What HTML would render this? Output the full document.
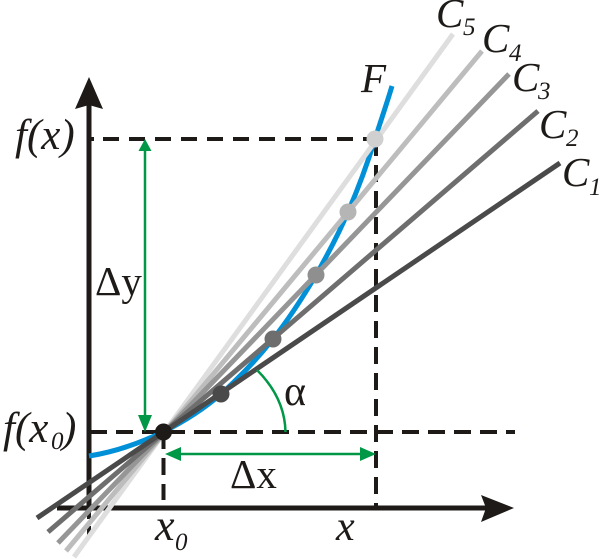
<!DOCTYPE html>
<html>
<head>
<meta charset="utf-8">
<style>
html,body{margin:0;padding:0;background:#fff;width:600px;height:559px;overflow:hidden}
svg{display:block}
text{font-family:"Liberation Serif",serif;fill:#1d1a18}
.i{font-style:italic}
</style>
</head>
<body>
<svg width="600" height="559" viewBox="0 0 600 559" xmlns="http://www.w3.org/2000/svg">
<rect width="600" height="559" fill="#fff"/>
<!-- axes -->
<line x1="89" y1="105" x2="89" y2="510" stroke="#1d1a18" stroke-width="5"/>
<line x1="89" y1="510" x2="89" y2="540" stroke="#1d1a18" stroke-width="4" stroke-dasharray="9 7"/>
<polygon points="89,77 103,109 89,105 75,109" fill="#1d1a18"/>
<line x1="57" y1="508" x2="490" y2="508" stroke="#1d1a18" stroke-width="5"/>
<polygon points="514,508 481,522 486,508 481,495" fill="#1d1a18"/>
<!-- dashes -->
<g stroke="#1d1a18" stroke-width="4" fill="none">
<line x1="91" y1="139" x2="94" y2="139"/>
<line x1="103" y1="139" x2="376" y2="139" stroke-dasharray="16 10"/>
<line x1="90" y1="432" x2="515" y2="432" stroke-dasharray="17 9"/>
<line x1="163.5" y1="432" x2="163.5" y2="500" stroke-dasharray="17 9"/>
<line x1="376" y1="139" x2="376" y2="506" stroke-dasharray="17 9"/>
</g>
<!-- curve -->
<path d="M89,456 C115,452 140,443 163,432 C185,421 205,408 221,394 C240,377 258,358 273,339 C289,319 303,297 316,275 C328,254 339,233 348,212 C358,189 367,165 375,139 C381,120 387,103 392,86" fill="none" stroke="#0090d8" stroke-width="5"/>
<!-- lines -->
<g stroke-width="5" fill="none">
<line x1="74" y1="557" x2="453" y2="34" stroke="#dedede"/>
<line x1="66" y1="551" x2="482" y2="51" stroke="#bdbdbd"/>
<line x1="58" y1="543" x2="509" y2="74" stroke="#969696"/>
<line x1="48" y1="532" x2="538" y2="111" stroke="#6e6e6e"/>
<line x1="37" y1="518" x2="560" y2="163" stroke="#4a4a4a"/>
</g>
<!-- dots -->
<circle cx="163.5" cy="432" r="8.500" fill="#1d1a18"/>
<circle cx="221" cy="394" r="8.500" fill="#4a4a4a"/>
<circle cx="273" cy="339" r="8.500" fill="#6e6e6e"/>
<circle cx="316" cy="275" r="8.500" fill="#8f8f8f"/>
<circle cx="348" cy="212" r="8.500" fill="#b5b5b5"/>
<circle cx="375" cy="139" r="8.500" fill="#d0d0d0"/>
<!-- green -->
<g stroke="#009846" stroke-width="2.5" fill="none">
<line x1="145" y1="150" x2="145" y2="420"/>
<line x1="175" y1="454" x2="365" y2="454"/>
<path d="M285.500,432 C285,408 274,387 257,370"/>
</g>
<polygon points="145,139 151.500,151 138.500,151" fill="#009846"/>
<polygon points="145,432 152,415 138,415" fill="#009846"/>
<polygon points="165,454 181,447 181,461" fill="#009846"/>
<polygon points="376,454 360,447 360,461" fill="#009846"/>
<!-- labels -->
<text class="i" x="15" y="149" font-size="43">f(x)</text>
<text class="i" x="3" y="442" font-size="43">f(x</text>
<text class="i" x="51" y="449" font-size="25">0</text>
<text class="i" x="62" y="442" font-size="43">)</text>
<text x="95" y="295" font-size="41">Δy</text>
<text x="230" y="488" font-size="41">Δx</text>
<text x="284" y="405" font-size="42">α</text>
<text class="i" x="155" y="540" font-size="44">x</text>
<text class="i" x="175" y="550" font-size="25">0</text>
<text class="i" x="336" y="540" font-size="42">x</text>
<text class="i" x="361" y="92" font-size="41">F</text>
<text class="i" x="436" y="27" font-size="41">C</text><text class="i" x="463" y="35" font-size="25">5</text>
<text class="i" x="482" y="52" font-size="41">C</text><text class="i" x="509" y="61" font-size="25">4</text>
<text class="i" x="512" y="91" font-size="41">C</text><text class="i" x="538" y="99" font-size="25">3</text>
<text class="i" x="539" y="138" font-size="41">C</text><text class="i" x="566" y="146" font-size="25">2</text>
<text class="i" x="562" y="186" font-size="41">C</text><text class="i" x="589" y="195" font-size="25">1</text>
</svg>
</body>
</html>
